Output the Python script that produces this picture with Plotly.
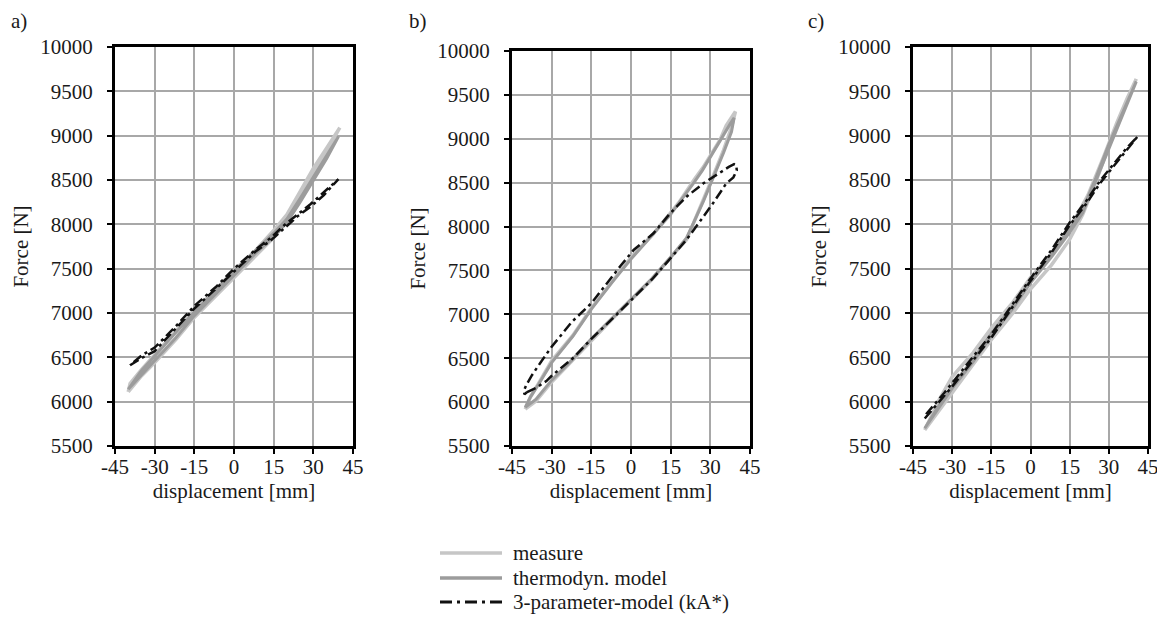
import plotly.graph_objects as go

# ---------------- data ----------------
X_TICKS = [-45, -30, -15, 0, 15, 30, 45]
Y_TICKS = [5500, 6000, 6500, 7000, 7500, 8000, 8500, 9000, 9500, 10000]
PANEL_LABELS = ["a)", "b)", "c)"]
SERIES_NAMES = ["measure", "thermodyn. model", "3-parameter-model (kA*)"]

# panel a
MEAS_A_X = [-40, -35, -30, -22, -15, -7, 0, 8, 15, 20, 25, 30, 35, 40,
            35, 30, 25, 20, 15, 8, 0, -7, -15, -22, -30, -35, -39.3, -40]
MEAS_A_Y = [6110, 6290, 6440, 6700, 6950, 7190, 7410, 7650, 7850, 8050, 8310, 8580, 8820, 9090,
            8860, 8630, 8370, 8110, 7930, 7700, 7480, 7260, 7030, 6800, 6530, 6360, 6205, 6110]
THERMO_A_X = [-40, -35, -30, -22, -15, -7, 0, 8, 15, 20, 25, 30, 35, 39.5,
              35, 30, 25, 20, 15, 8, 0, -7, -15, -22, -30, -35, -40]
THERMO_A_Y = [6140, 6300, 6460, 6720, 6970, 7210, 7430, 7670, 7860, 8020, 8250, 8500, 8740, 8990,
              8770, 8540, 8290, 8060, 7900, 7700, 7470, 7250, 7010, 6780, 6510, 6350, 6140]
KA_A_X = [-39.3, -35, -30, -22, -15, -7, 0, 8, 14, 19, 24, 29, 34, 39.5,
          34, 29, 24, 19, 14, 8, 0, -7, -15, -22, -30, -35, -39.3]
KA_A_Y = [6410, 6490, 6570, 6820, 7050, 7270, 7470, 7690, 7820, 7960, 8090, 8200, 8330, 8510,
          8360, 8230, 8110, 7990, 7850, 7710, 7500, 7290, 7080, 6850, 6610, 6520, 6410]

# panel b
MEAS_B_X = [-40, -36, -30, -22, -15, -7, 0, 8, 15, 21, 23.6, 27.4, 31, 35, 38, 39.5,
            38, 36, 33.7, 30, 27.4, 24, 21, 18, 14.8, 8.5, 0, -7, -15, -22, -30, -35, -38, -40]
MEAS_B_Y = [5920, 6010, 6230, 6480, 6710, 6950, 7160, 7400, 7650, 7850, 8037, 8300, 8570, 8870, 9130, 9310,
            9240, 9150, 8990, 8810, 8680, 8540, 8410, 8270, 8150, 7920, 7650, 7380, 7070, 6760, 6470, 6210, 6060, 5920]
THERMO_B_X = [-40, -36, -30, -22, -15, -7, 0, 8, 15, 21, 23.6, 27.4, 31, 35, 38, 39,
              37.5, 35, 33, 30, 27, 24, 21, 18, 15, 8, 0, -7, -15, -22, -30, -35, -38, -40]
THERMO_B_Y = [5940, 6030, 6250, 6490, 6720, 6960, 7170, 7410, 7650, 7870, 8040, 8290, 8550, 8840, 9080, 9240,
              9170, 9040, 8940, 8780, 8640, 8510, 8390, 8260, 8140, 7900, 7630, 7370, 7060, 6750, 6450, 6200, 6060, 5940]
KA_B_X = [-39.5, -36, -32, -30, -22, -15, -7, 0, 8, 15, 21, 26, 31, 36, 38.7, 40, 39.8, 39,
          37, 35, 32.4, 27.4, 21, 14.8, 8.5, 1, -4, -7.2, -15, -22.3, -30, -34, -37.4, -39.5, -40.5, -40.3, -39.5]
KA_B_Y = [6110, 6160, 6240, 6300, 6500, 6720, 6950, 7160, 7400, 7640, 7850, 8056, 8265, 8490, 8560, 8640, 8700, 8710,
          8680, 8640, 8590, 8493, 8340, 8151, 7923, 7733, 7550, 7428, 7126, 6916, 6631, 6460, 6309, 6200, 6130, 6090, 6110]

# panel c
MEAS_C_X = [-40.5, -35, -30, -22, -15, -7, 0, 8, 15, 20, 25, 30, 35, 40.5,
            37, 33, 28, 22, 15, 8, 0, -7, -15, -22, -30, -35, -40.5]
MEAS_C_Y = [5680, 5900, 6110, 6420, 6700, 6990, 7270, 7540, 7830, 8110, 8480, 8880, 9230, 9640,
            9420, 9140, 8760, 8330, 7950, 7660, 7400, 7110, 6830, 6550, 6280, 6020, 5680]
THERMO_C_X = [-40.5, -35, -30, -22, -15, -7, 0, 8, 15, 20, 25, 30, 35, 40.5,
              35, 30, 25, 20, 15, 8, 0, -7, -15, -22, -30, -35, -40.5]
THERMO_C_Y = [5700, 5930, 6150, 6450, 6740, 7040, 7340, 7630, 7910, 8130, 8490, 8870, 9210, 9610,
              9240, 8900, 8520, 8170, 7950, 7660, 7370, 7070, 6770, 6480, 6180, 5960, 5700]
KA_C_X = [-40.5, -33, -30, -23, -15, -8, 0, 8, 15, 21.5, 26.6, 31.7, 36.8, 41,
          36.8, 31.7, 26.6, 21.5, 15, 8, 0, -8, -15, -23, -30, -33, -40.5]
KA_C_Y = [5810, 6060, 6170, 6430, 6720, 7020, 7360, 7680, 7990, 8237, 8462, 8650, 8838, 8990,
          8860, 8680, 8490, 8270, 8020, 7710, 7390, 7050, 6760, 6470, 6210, 6100, 5840]

PANELS = [
    (MEAS_A_X, MEAS_A_Y, THERMO_A_X, THERMO_A_Y, KA_A_X, KA_A_Y),
    (MEAS_B_X, MEAS_B_Y, THERMO_B_X, THERMO_B_Y, KA_B_X, KA_B_Y),
    (MEAS_C_X, MEAS_C_Y, THERMO_C_X, THERMO_C_Y, KA_C_X, KA_C_Y),
]

# ---------------- styling / layout ----------------
W, H = 1165, 630
OFF = 8  # the page body margin shifts the figure by this many pixels
FONT = "Liberation Serif, Times New Roman, serif"
FS = 21
TXT = "#1a1a1a"
STYLES = [
    dict(color="#c6c6c6", width=3.5),
    dict(color="#9c9c9c", width=3),
    dict(color="#111111", width=2.5, dash="10px,4px,3px,4px"),
]
LEGEND_STYLES = [
    dict(color="#c6c6c6", width=3.5),
    dict(color="#9c9c9c", width=3.5),
    dict(color="#111111", width=3, dash="12px,5px,3px,5px"),
]

# screen-pixel boxes: (left, right, top, bottom)
BOXES = [(115, 353, 47, 446), (512, 750, 51, 446), (913, 1148, 47, 446)]
LABEL_X = [10, 408, 807]
LEG_X0, LEG_X1, LEG_TX = 440, 502, 511
LEG_ROWS = [553, 578, 602]


def px(v):
    return (v - OFF) / W


def py(v):
    return 1 - (v - OFF) / H


fig = go.Figure()
for i, (mx, my, tx, ty, kx, ky) in enumerate(PANELS):
    sfx = "" if i == 0 else str(i + 1)
    for (xs, ys, name, st) in ((mx, my, SERIES_NAMES[0], STYLES[0]),
                               (tx, ty, SERIES_NAMES[1], STYLES[1]),
                               (kx, ky, SERIES_NAMES[2], STYLES[2])):
        fig.add_trace(go.Scatter(x=xs, y=ys, mode="lines", name=name, line=st,
                                 showlegend=False, legendgroup=name,
                                 xaxis="x" + sfx, yaxis="y" + sfx))

layout = dict(
    width=W, height=H,
    margin=dict(l=0, r=0, t=0, b=0),
    paper_bgcolor="white", plot_bgcolor="white",
    font=dict(family=FONT, size=FS, color=TXT),
    showlegend=False,
)

annotations = []
shapes = []
for i, (l, r, t, b) in enumerate(BOXES):
    sfx = "" if i == 0 else str(i + 1)
    common = dict(showgrid=True, gridcolor="#a8a8a8", gridwidth=1.5,
                  showline=True, linecolor="black", linewidth=3, mirror=True,
                  ticks="outside", ticklen=5, tickwidth=1.5, tickcolor="black",
                  zeroline=False, automargin=False, ticklabeloverflow="allow",
                  tickfont=dict(family=FONT, size=FS, color=TXT))
    xa = dict(domain=[px(l), px(r)], anchor="y" + sfx, range=[-45, 45],
              tickmode="array", tickvals=X_TICKS, ticktext=[str(v) for v in X_TICKS],
              ticklabelstandoff=-5,
              title=dict(text="displacement [mm]", standoff=6,
                         font=dict(family=FONT, size=FS, color=TXT)), **common)
    ya = dict(domain=[py(b), py(t)], anchor="x" + sfx, range=[5500, 10000],
              tickmode="array", tickvals=Y_TICKS, ticktext=[str(v) for v in Y_TICKS],
              ticklabelstandoff=10,
              title=dict(text="Force [N]", standoff=6,
                         font=dict(family=FONT, size=FS, color=TXT)), **common)
    layout["xaxis" + sfx] = xa
    layout["yaxis" + sfx] = ya
    annotations.append(dict(text=PANEL_LABELS[i], x=px(LABEL_X[i]), y=1.0, xref="paper", yref="paper",
                            xanchor="left", yanchor="top", showarrow=False, borderpad=0,
                            font=dict(family=FONT, size=FS, color=TXT)))

# legend drawn below the middle panel
for name, st, yrow in zip(SERIES_NAMES, LEGEND_STYLES, LEG_ROWS):
    shapes.append(dict(type="line", xref="paper", yref="paper",
                       x0=px(LEG_X0), x1=px(LEG_X1), y0=py(yrow), y1=py(yrow),
                       line=st))
    annotations.append(dict(text=name, x=px(LEG_TX), y=py(yrow), xref="paper", yref="paper",
                            xanchor="left", yanchor="middle", showarrow=False,
                            font=dict(family=FONT, size=FS, color=TXT)))

layout["annotations"] = annotations
layout["shapes"] = shapes
fig.update_layout(**layout)

fig.write_html("out.html")
